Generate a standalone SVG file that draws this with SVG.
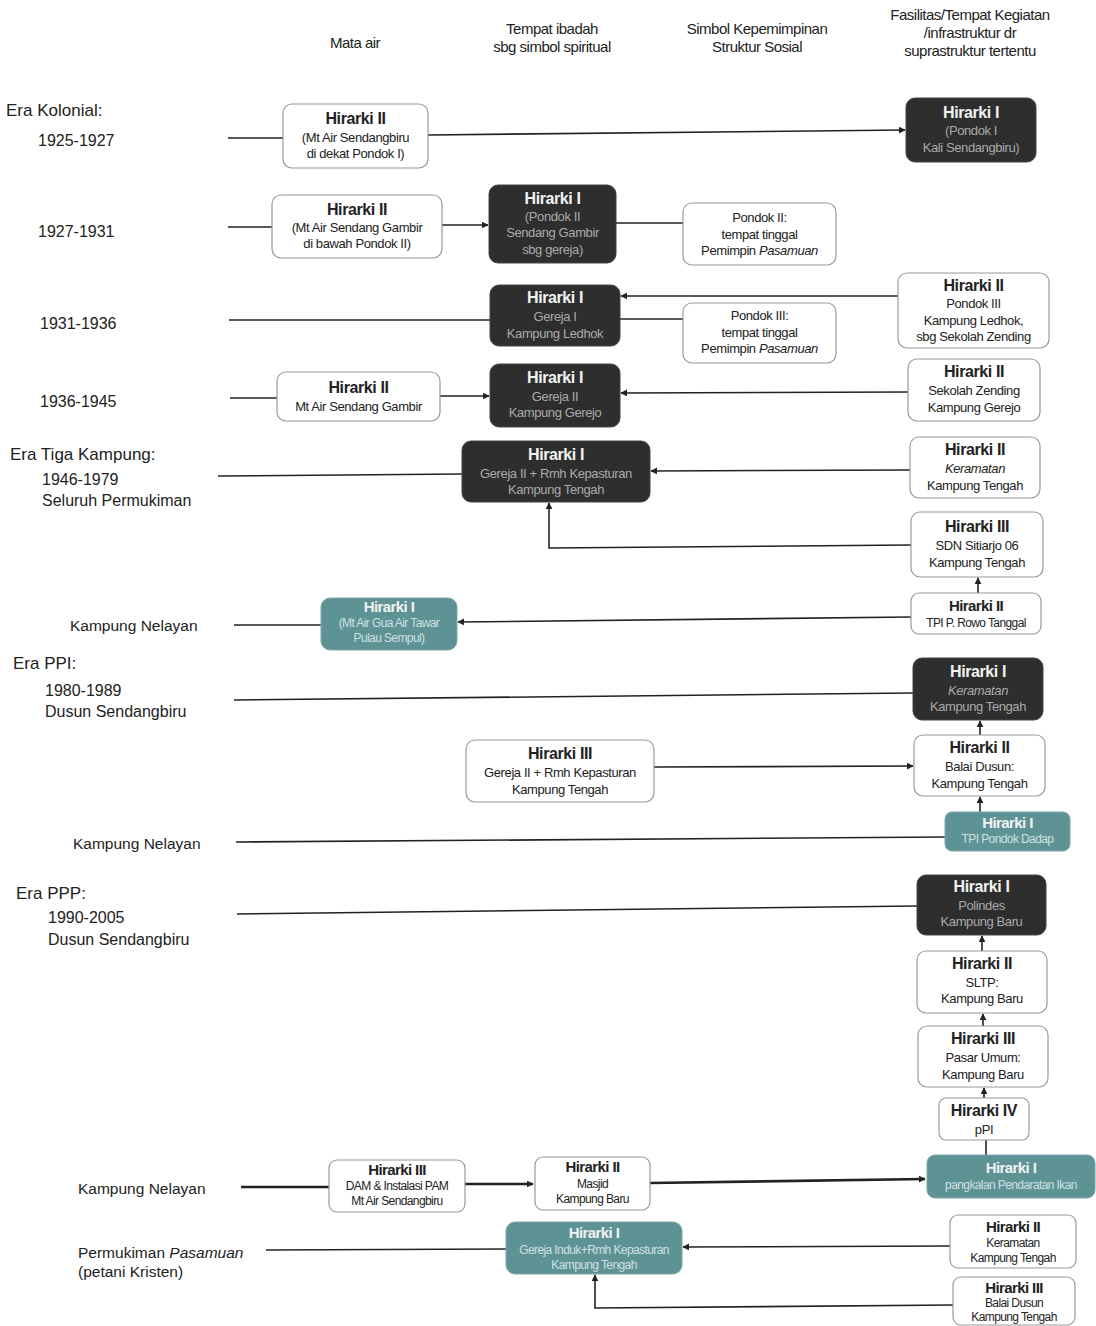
<svg xmlns="http://www.w3.org/2000/svg" width="1096" height="1326" viewBox="0 0 1096 1326">
<style>
text{font-family:"Liberation Sans",Arial,sans-serif;fill:#222}
.hd{font-size:15px;text-anchor:middle;letter-spacing:-0.5px}
.lb{font-size:17px}
.lb2{font-size:16px}
.lb3{font-size:15.5px}
.w rect{fill:#fff;stroke:#9a9a9a;stroke-width:1.2}
.d rect{fill:#2e2e2e;stroke:#444;stroke-width:1}
.t rect{fill:#5e9396;stroke:#7aa8aa;stroke-width:1}
.n text{text-anchor:middle;font-size:13px;letter-spacing:-0.4px}
.n .h{font-size:16px;font-weight:bold}
.d text{fill:#aaa}
.d .h{fill:#f2f2f2}
.t text{fill:#cfe0e0}
.t .h{fill:#f2f2f2}
.s text{font-size:12px;letter-spacing:-0.6px}
.s .h{font-size:15px}
.c line,.c path{stroke:#222;stroke-width:1.6;fill:none}
.c .k{stroke-width:2.6}
</style>
<defs>
<marker id="a" viewBox="0 0 10 10" refX="9" refY="5" markerWidth="7" markerHeight="7" markerUnits="userSpaceOnUse" orient="auto"><path d="M0,0L10,5L0,10z" fill="#222"/></marker>
</defs>

<g id="headers">
<text class="hd" x="355" y="48">Mata air</text>
<text class="hd" x="552" y="34">Tempat ibadah</text>
<text class="hd" x="552" y="52">sbg simbol spiritual</text>
<text class="hd" x="757" y="34">Simbol Kepemimpinan</text>
<text class="hd" x="757" y="52">Struktur Sosial</text>
<text class="hd" x="970" y="20">Fasilitas/Tempat Kegiatan</text>
<text class="hd" x="970" y="38">/infrastruktur dr</text>
<text class="hd" x="970" y="56">suprastruktur tertentu</text>
</g>

<g id="labels">
<text class="lb" x="6" y="116">Era Kolonial:</text>
<text class="lb2" x="38" y="146">1925-1927</text>
<text class="lb2" x="38" y="237">1927-1931</text>
<text class="lb2" x="40" y="329">1931-1936</text>
<text class="lb2" x="40" y="407">1936-1945</text>
<text class="lb" x="10" y="460">Era Tiga Kampung:</text>
<text class="lb2" x="42" y="485">1946-1979</text>
<text class="lb2" x="42" y="506">Seluruh Permukiman</text>
<text class="lb3" x="70" y="631">Kampung Nelayan</text>
<text class="lb" x="13" y="669">Era PPI:</text>
<text class="lb2" x="45" y="696">1980-1989</text>
<text class="lb2" x="45" y="717">Dusun Sendangbiru</text>
<text class="lb3" x="73" y="849">Kampung Nelayan</text>
<text class="lb" x="16" y="899">Era PPP:</text>
<text class="lb2" x="48" y="923">1990-2005</text>
<text class="lb2" x="48" y="945">Dusun Sendangbiru</text>
<text class="lb3" x="78" y="1194">Kampung Nelayan</text>
<text class="lb3" x="78" y="1258">Permukiman <tspan font-style="italic">Pasamuan</tspan></text>
<text class="lb3" x="78" y="1277">(petani Kristen)</text>
</g>

<g id="connectors" class="c">
<line x1="228" y1="138" x2="283" y2="138"/>
<line x1="428" y1="135" x2="905" y2="130" marker-end="url(#a)"/>
<line x1="228" y1="227" x2="272" y2="227"/>
<line x1="442" y1="225" x2="488" y2="225" marker-end="url(#a)"/>
<line x1="616" y1="223" x2="683" y2="223"/>
<line x1="229" y1="320" x2="490" y2="320"/>
<line x1="620" y1="319" x2="683" y2="319"/>
<line x1="898" y1="296" x2="621" y2="296" marker-end="url(#a)"/>
<line x1="230" y1="398" x2="277" y2="398"/>
<line x1="440" y1="396" x2="489" y2="396" marker-end="url(#a)"/>
<line x1="908" y1="392" x2="621" y2="393" marker-end="url(#a)"/>
<line x1="218" y1="476" x2="462" y2="474"/>
<line x1="910" y1="470" x2="651" y2="471" marker-end="url(#a)"/>
<path d="M911,545L549,548L549,503" marker-end="url(#a)"/>
<line x1="234" y1="625" x2="321" y2="625"/>
<line x1="911" y1="617" x2="458" y2="622" marker-end="url(#a)"/>
<line x1="978" y1="593" x2="978" y2="578" marker-end="url(#a)"/>
<line x1="234" y1="700" x2="913" y2="693"/>
<line x1="654" y1="767" x2="913" y2="766" marker-end="url(#a)"/>
<line x1="980" y1="735" x2="980" y2="721" marker-end="url(#a)"/>
<line x1="236" y1="842" x2="945" y2="837"/>
<line x1="980" y1="812" x2="980" y2="797" marker-end="url(#a)"/>
<line x1="237" y1="914" x2="917" y2="906"/>
<line x1="982" y1="951" x2="982" y2="936" marker-end="url(#a)"/>
<line x1="983" y1="1026" x2="983" y2="1014" marker-end="url(#a)"/>
<line x1="984" y1="1098" x2="984" y2="1088" marker-end="url(#a)"/>
<line x1="986" y1="1140" x2="986" y2="1155"/>
<line class="k" x1="241" y1="1187" x2="329" y2="1187"/>
<line class="k" x1="465" y1="1184" x2="533" y2="1184" marker-end="url(#a)"/>
<line class="k" x1="650" y1="1183" x2="925" y2="1179" marker-end="url(#a)"/>
<line x1="266" y1="1250" x2="506" y2="1249"/>
<line x1="950" y1="1246" x2="683" y2="1247" marker-end="url(#a)"/>
<path d="M953,1305L595,1308L595,1275" marker-end="url(#a)"/>
</g>

<g id="n1" class="n w"><rect x="283" y="104" width="145" height="64" rx="9"/><text class="h" x="355.5" y="124">Hirarki II</text><text x="355.5" y="142">(Mt Air Sendangbiru</text><text x="355.5" y="158">di dekat Pondok I)</text></g>
<g id="n2" class="n d"><rect x="906" y="98" width="130" height="64" rx="9"/><text class="h" x="971" y="118">Hirarki I</text><text x="971" y="135">(Pondok I</text><text x="971" y="152">Kali Sendangbiru)</text></g>

<g id="n3" class="n w"><rect x="272" y="195" width="170" height="63" rx="9"/><text class="h" x="357" y="215">Hirarki II</text><text x="357" y="232">(Mt Air Sendang Gambir</text><text x="357" y="248">di bawah Pondok II)</text></g>
<g id="n4" class="n d"><rect x="489" y="185" width="127" height="78" rx="9"/><text class="h" x="552.5" y="204">Hirarki I</text><text x="552.5" y="221">(Pondok II</text><text x="552.5" y="237">Sendang Gambir</text><text x="552.5" y="254">sbg gereja)</text></g>
<g id="n5" class="n w"><rect x="683" y="203" width="153" height="62" rx="9"/><text x="759.5" y="222">Pondok II:</text><text x="759.5" y="239">tempat tinggal</text><text x="759.5" y="255">Pemimpin <tspan font-style="italic">Pasamuan</tspan></text></g>

<g id="n6" class="n d"><rect x="490" y="285" width="130" height="61" rx="9"/><text class="h" x="555" y="303">Hirarki I</text><text x="555" y="321">Gereja I</text><text x="555" y="338">Kampung Ledhok</text></g>
<g id="n7" class="n w"><rect x="683" y="303" width="153" height="60" rx="9"/><text x="759.5" y="320">Pondok III:</text><text x="759.5" y="337">tempat tinggal</text><text x="759.5" y="353">Pemimpin <tspan font-style="italic">Pasamuan</tspan></text></g>
<g id="n8" class="n w"><rect x="898" y="273" width="151" height="75" rx="9"/><text class="h" x="973.5" y="291">Hirarki II</text><text x="973.5" y="308">Pondok III</text><text x="973.5" y="325">Kampung Ledhok,</text><text x="973.5" y="341">sbg Sekolah Zending</text></g>

<g id="n9" class="n w"><rect x="277" y="372" width="163" height="49" rx="9"/><text class="h" x="358.5" y="393">Hirarki II</text><text x="358.5" y="411">Mt Air Sendang Gambir</text></g>
<g id="n10" class="n d"><rect x="490" y="364" width="130" height="63" rx="9"/><text class="h" x="555" y="383">Hirarki I</text><text x="555" y="401">Gereja II</text><text x="555" y="417">Kampung Gerejo</text></g>
<g id="n11" class="n w"><rect x="908" y="359" width="132" height="62" rx="9"/><text class="h" x="974" y="377">Hirarki II</text><text x="974" y="395">Sekolah Zending</text><text x="974" y="412">Kampung Gerejo</text></g>

<g id="n12" class="n d"><rect x="462" y="441" width="188" height="61" rx="9"/><text class="h" x="556" y="460">Hirarki I</text><text x="556" y="478">Gereja II + Rmh Kepasturan</text><text x="556" y="494">Kampung Tengah</text></g>
<g id="n13" class="n w"><rect x="910" y="437" width="130" height="61" rx="9"/><text class="h" x="975" y="455">Hirarki II</text><text x="975" y="473" font-style="italic">Keramatan</text><text x="975" y="490">Kampung Tengah</text></g>
<g id="n14" class="n w"><rect x="911" y="512" width="132" height="65" rx="9"/><text class="h" x="977" y="532">Hirarki III</text><text x="977" y="550">SDN Sitiarjo 06</text><text x="977" y="567">Kampung Tengah</text></g>

<g id="n15" class="n t s"><rect x="321" y="598" width="136" height="52" rx="9"/><text class="h" x="389" y="612">Hirarki I</text><text x="389" y="627">(Mt Air Gua Air Tawar</text><text x="389" y="642">Pulau Sempul)</text></g>
<g id="n16" class="n w s"><rect x="911" y="593" width="130" height="41" rx="8"/><text class="h" x="976" y="611">Hirarki II</text><text x="976" y="627">TPI P. Rowo Tanggal</text></g>

<g id="n17" class="n d"><rect x="913" y="658" width="130" height="62" rx="9"/><text class="h" x="978" y="677">Hirarki I</text><text x="978" y="695" font-style="italic">Keramatan</text><text x="978" y="711">Kampung Tengah</text></g>
<g id="n18" class="n w"><rect x="466" y="740" width="188" height="62" rx="9"/><text class="h" x="560" y="759">Hirarki III</text><text x="560" y="777">Gereja II + Rmh Kepasturan</text><text x="560" y="794">Kampung Tengah</text></g>
<g id="n19" class="n w"><rect x="914" y="735" width="131" height="61" rx="9"/><text class="h" x="979.5" y="753">Hirarki II</text><text x="979.5" y="771">Balai Dusun:</text><text x="979.5" y="788">Kampung Tengah</text></g>
<g id="n20" class="n t s"><rect x="945" y="812" width="125" height="39" rx="7"/><text class="h" x="1007.5" y="828">Hirarki I</text><text x="1007.5" y="843">TPI Pondok Dadap</text></g>

<g id="n21" class="n d"><rect x="917" y="875" width="129" height="60" rx="9"/><text class="h" x="981.5" y="892">Hirarki I</text><text x="981.5" y="910">Polindes</text><text x="981.5" y="926">Kampung Baru</text></g>
<g id="n22" class="n w"><rect x="917" y="951" width="130" height="62" rx="9"/><text class="h" x="982" y="969">Hirarki II</text><text x="982" y="987">SLTP:</text><text x="982" y="1003">Kampung Baru</text></g>
<g id="n23" class="n w"><rect x="918" y="1026" width="130" height="61" rx="9"/><text class="h" x="983" y="1044">Hirarki III</text><text x="983" y="1062">Pasar Umum:</text><text x="983" y="1079">Kampung Baru</text></g>
<g id="n24" class="n w"><rect x="939" y="1098" width="90" height="42" rx="7"/><text class="h" x="984" y="1116">Hirarki IV</text><text x="984" y="1134">pPI</text></g>
<g id="n25" class="n t s"><rect x="927" y="1155" width="168" height="43" rx="8"/><text class="h" x="1011" y="1173">Hirarki I</text><text x="1011" y="1189">pangkalan Pendaratan Ikan</text></g>

<g id="n26" class="n w s"><rect x="329" y="1160" width="136" height="52" rx="8"/><text class="h" x="397" y="1175">Hirarki III</text><text x="397" y="1190">DAM &amp; Instalasi PAM</text><text x="397" y="1205">Mt Air Sendangbiru</text></g>
<g id="n27" class="n w s"><rect x="535" y="1157" width="115" height="53" rx="8"/><text class="h" x="592.5" y="1172">Hirarki II</text><text x="592.5" y="1188">Masjid</text><text x="592.5" y="1203">Kampung Baru</text></g>

<g id="n28" class="n t s"><rect x="506" y="1222" width="176" height="52" rx="9"/><text class="h" x="594" y="1238">Hirarki I</text><text x="594" y="1254">Gereja Induk+Rmh Kepasturan</text><text x="594" y="1269">Kampung Tengah</text></g>
<g id="n29" class="n w s"><rect x="950" y="1215" width="126" height="53" rx="8"/><text class="h" x="1013" y="1232">Hirarki II</text><text x="1013" y="1247">Keramatan</text><text x="1013" y="1262">Kampung Tengah</text></g>
<g id="n30" class="n w s"><rect x="953" y="1277" width="122" height="48" rx="8"/><text class="h" x="1014" y="1293">Hirarki III</text><text x="1014" y="1307">Balai Dusun</text><text x="1014" y="1321">Kampung Tengah</text></g>
</svg>
